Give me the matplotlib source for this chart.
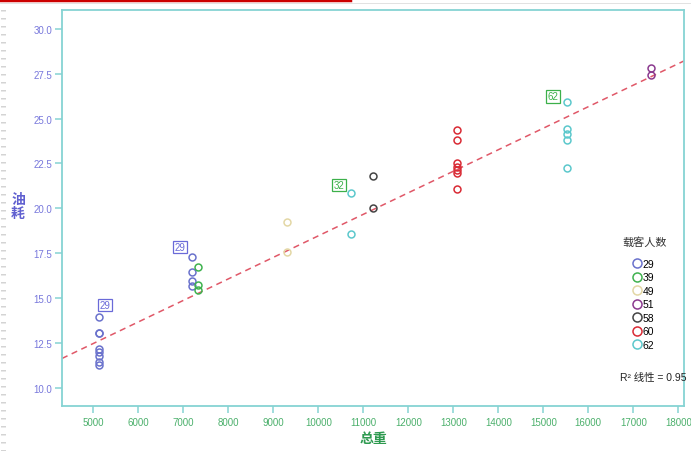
import matplotlib
matplotlib.use("Agg")
import matplotlib.pyplot as plt
from matplotlib.lines import Line2D

plt.rcParams['font.family'] = ['Liberation Sans', 'Noto Sans CJK SC', 'DejaVu Sans']
cjk = ['Noto Sans CJK SC', 'DejaVu Sans']

# 载客人数 -> (总重, 油耗)
groups = ['29', '39', '49', '51', '58', '60', '62']
weight = {
    '29': [5130, 5130, 5130, 5130, 5130, 5130, 5130, 5130,
           7200, 7200, 7200, 7200],
    '39': [7330, 7330, 7330],
    '49': [9300, 9300],
    '51': [17400, 17400],
    '58': [11215, 11215],
    '60': [13080, 13080, 13080, 13080, 13080, 13080, 13080],
    '62': [10730, 10730, 15530, 15530, 15530, 15530, 15530],
}
fuel = {
    '29': [13.95, 13.05, 13.05, 12.15, 12.0, 11.8, 11.45, 11.28,
           17.27, 16.44, 15.94, 15.69],
    '39': [16.72, 15.73, 15.45],
    '49': [19.25, 17.55],
    '51': [27.82, 27.45],
    '58': [21.78, 20.0],
    '60': [24.37, 23.82, 22.52, 22.31, 22.13, 21.96, 21.07],
    '62': [20.85, 18.55, 25.93, 24.41, 24.13, 23.82, 22.23],
}
colors = ['#6a72cc', '#3fb24f', '#e3d7a5', '#8b3a8f', '#444444', '#d92b35', '#5cc8cc']

# linear fit line (R2 = 0.95)
fit_slope = 0.001198
fit_intercept = 6.49

# point labels
lbl_text = ['29', '29', '32', '62']
lbl_x = [5260, 6927, 10460, 15215]
lbl_y = [14.62, 17.85, 21.30, 26.25]
lbl_color = ['#6a6ad8', '#6a6ad8', '#3cb04a', '#3cb04a']

fig = plt.figure(figsize=(6.91, 4.52), dpi=100)
ax = fig.add_axes([62 / 691, 1 - 407 / 452, 622 / 691, 396 / 452])

x0, x1 = 4304, 18127
xs = [x0, x1]
ax.plot(xs, [fit_intercept + fit_slope * v for v in xs], color='#e05868',
        lw=1.1, ls=(0, (4, 3)), zorder=1)

for g, c in zip(groups, colors):
    ax.plot(weight[g], fuel[g], 'o', ms=5, mfc='none', mec=c, mew=1.1, zorder=3)

for t, x, y, c in zip(lbl_text, lbl_x, lbl_y, lbl_color):
    ax.text(x, y, t, color=c, fontsize=7, ha='center', va='center', zorder=4,
            bbox=dict(boxstyle='square,pad=0.15', fc='white', ec=c, lw=0.9))

ax.set_xlim(x0, x1)
ax.set_ylim(9.0, 31.04)
ax.set_xticks(range(5000, 18001, 1000))
ax.set_yticks([10.0, 12.5, 15.0, 17.5, 20.0, 22.5, 25.0, 27.5, 30.0])
ax.set_yticklabels([f'{v:.1f}' for v in ax.get_yticks()])

spine_c = '#86d3d3'
for s in ax.spines.values():
    s.set_color(spine_c)
    s.set_linewidth(1.3)
ax.tick_params(axis='both', colors=spine_c, length=5, width=1.1, labelsize=7)
ax.tick_params(axis='x', labelcolor='#4cb06c', pad=3)
ax.tick_params(axis='y', labelcolor='#7878dc', pad=2)

fig.text(18 / 691, 1 - 207 / 452, '油\n耗', color='#6060d0', fontsize=10,
         fontweight='bold', ha='center', va='center', linespacing=1.0, family=cjk)
fig.text(373 / 691, 1 - 439 / 452, '总重', color='#2e9a50', fontsize=10,
         fontweight='bold', ha='center', va='center', family=cjk)

# legend: title drawn separately so its gap to the entries can be set
fig.text(645 / 691, 1 - 242 / 452, '载客人数', fontsize=8, ha='center', va='center',
         color='#333333', family=cjk)
handles = [Line2D([], [], ls='none', marker='o', ms=6.5, mfc='none', mec=c, mew=1.1)
           for c in colors]
ax.legend(handles, groups, loc='upper left',
          bbox_to_anchor=(633 / 691, 1 - 260 / 452), bbox_transform=fig.transFigure,
          frameon=False, fontsize=7.5, handlelength=0.8,
          handletextpad=0.15, labelspacing=0.33, borderpad=0, borderaxespad=0)

fig.text(686 / 691, 1 - 378 / 452, 'R² 线性 = 0.95', fontsize=7.5, ha='right',
         va='center', color='#222222', family=['Liberation Sans', 'Noto Sans CJK SC'])

# page decoration: red strip on top, dashed margin on the left
fig.add_artist(Line2D([0, 350 / 691], [1 - 1 / 452, 1 - 1 / 452], color='#cc0000', lw=2.5))
fig.add_artist(Line2D([0, 1], [1 - 4 / 452, 1 - 4 / 452], color='#dddddd', lw=0.6))
fig.add_artist(Line2D([2.5 / 691, 2.5 / 691], [0, 1 - 8 / 452], color='#d4d4d4', lw=3.6,
                      ls=(0, (0.3, 1.3))))

fig.savefig('out.png', dpi=100)
